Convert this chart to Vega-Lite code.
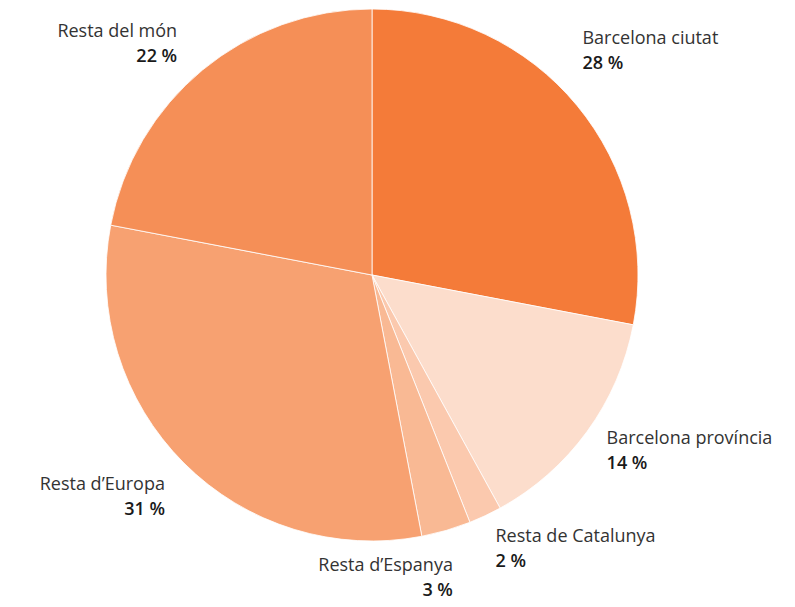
{
  "$schema": "https://vega.github.io/schema/vega-lite/v6.json",
  "width": 744,
  "height": 550,
  "autosize": {"type": "none"},
  "padding": {"left": 0, "top": 0, "right": 51, "bottom": 57},
  "background": "white",
  "config": {"view": {"stroke": null}},
  "data": {
    "values": [
      {"cat": "Barcelona ciutat", "value": 28, "idx": 1},
      {"cat": "Barcelona província", "value": 14, "idx": 2},
      {"cat": "Resta de Catalunya", "value": 2, "idx": 3},
      {"cat": "Resta d’Espanya", "value": 3, "idx": 4},
      {"cat": "Resta d’Europa", "value": 31, "idx": 5},
      {"cat": "Resta del món", "value": 22, "idx": 6}
    ]
  },
  "encoding": {
    "theta": {"field": "value", "type": "quantitative", "stack": true},
    "order": {"field": "idx", "type": "quantitative"}
  },
  "layer": [
    {
      "mark": {"type": "arc", "outerRadius": 266, "stroke": "white", "strokeWidth": 0.8},
      "encoding": {
        "color": {
          "field": "cat",
          "type": "nominal",
          "legend": null,
          "scale": {
            "domain": ["Barcelona ciutat", "Barcelona província", "Resta de Catalunya", "Resta d’Espanya", "Resta d’Europa", "Resta del món"],
            "range": ["#F47B39", "#FCDDCC", "#FBC9AE", "#F9B994", "#F7A171", "#F58F57"]
          }
        }
      }
    },
    {
      "mark": {
        "type": "text",
        "radius": 290,
        "font": "Open Sans",
        "fontSize": 18,
        "color": "#333333",
        "baseline": "middle",
        "align": {"expr": "indexof(['Resta d’Espanya','Resta d’Europa','Resta del món'], datum.cat) >= 0 ? 'right' : 'left'"},
        "dx": {"expr": "({'Barcelona ciutat': -13, 'Barcelona província': 0, 'Resta de Catalunya': 0, 'Resta d’Espanya': 0, 'Resta d’Europa': -2, 'Resta del món': -10})[datum.cat]"},
        "dy": {"expr": "({'Barcelona ciutat': -51, 'Barcelona província': -6, 'Resta de Catalunya': 0, 'Resta d’Espanya': 13, 'Resta d’Europa': 5, 'Resta del món': -20})[datum.cat]"}
      },
      "encoding": {"text": {"field": "cat"}}
    },
    {
      "transform": [{"calculate": "datum.value + ' %'", "as": "label"}],
      "mark": {
        "type": "text",
        "radius": 290,
        "font": "Open Sans",
        "fontSize": 18,
        "fontWeight": 600,
        "color": "#1a1a1a",
        "baseline": "middle",
        "align": {"expr": "indexof(['Resta d’Espanya','Resta d’Europa','Resta del món'], datum.cat) >= 0 ? 'right' : 'left'"},
        "dx": {"expr": "({'Barcelona ciutat': -13, 'Barcelona província': 0, 'Resta de Catalunya': 0, 'Resta d’Espanya': 0, 'Resta d’Europa': -2, 'Resta del món': -10})[datum.cat]"},
        "dy": {"expr": "({'Barcelona ciutat': -26, 'Barcelona província': 19, 'Resta de Catalunya': 25, 'Resta d’Espanya': 38, 'Resta d’Europa': 30, 'Resta del món': 5})[datum.cat]"}
      },
      "encoding": {"text": {"field": "label"}}
    }
  ]
}
